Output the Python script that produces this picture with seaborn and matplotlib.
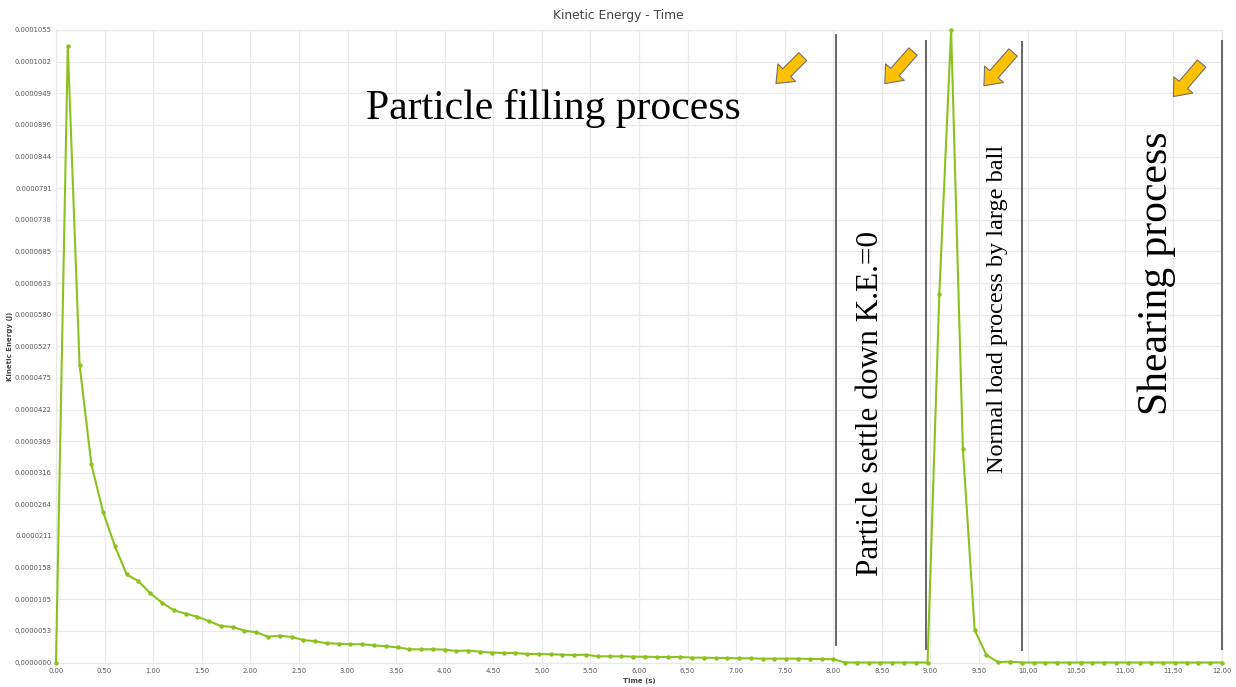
import numpy as np
import pandas as pd
import matplotlib
matplotlib.use("Agg")
import matplotlib.pyplot as plt
import seaborn as sns

# ---------------- data ----------------
time_start, time_end, n_samples = 0.0, 12.0, 100
# kinetic energy in micro-joules
ke_uJ = [0.0, 102.8, 49.7, 33.1, 25.1, 19.4, 14.7, 13.56, 11.55, 9.98,
         8.71, 8.15, 7.65, 6.88, 6.09, 5.93, 5.31, 5.04, 4.31, 4.47,
         4.26, 3.76, 3.54, 3.20, 3.14, 3.04, 3.04, 2.87, 2.70, 2.54,
         2.20, 2.20, 2.20, 2.15, 1.92, 2.00, 1.80, 1.65, 1.60, 1.60,
         1.42, 1.42, 1.37, 1.31, 1.25, 1.30, 1.03, 1.03, 1.03, 0.97,
         0.97, 0.92, 0.92, 0.92, 0.81, 0.81, 0.75, 0.75, 0.70, 0.70,
         0.64, 0.64, 0.64, 0.64, 0.58, 0.58, 0.55, 0.0, 0.0, 0.0,
         0.0, 0.0, 0.0, 0.0, 0.0, 61.5, 105.5, 35.6, 5.4, 1.25,
         0.05, 0.15, 0.0, 0.0, 0.0, 0.0, 0.0, 0.0, 0.0, 0.0,
         0.0, 0.0, 0.0, 0.0, 0.0, 0.0, 0.0, 0.0, 0.0, 0.0]

x_ticks = [i * 0.5 for i in range(25)]
x_tick_labels = ["%.2f" % v for v in x_ticks]
y_tick_labels = ["0.0000000", "0.0000053", "0.0000105", "0.0000158", "0.0000211",
                 "0.0000264", "0.0000316", "0.0000369", "0.0000422", "0.0000475",
                 "0.0000527", "0.0000580", "0.0000633", "0.0000685", "0.0000738",
                 "0.0000791", "0.0000844", "0.0000896", "0.0000949", "0.0001002",
                 "0.0001055"]
y_max = 0.0001055

# phase divider lines: x (s), bottom (J), top (J)
divider_x = [8.027, 8.953, 9.946, 12.0]
divider_bottom = [2.75e-6, 2.09e-6, 1.97e-6, 2.09e-6]
divider_top = [1.0475e-4, 1.039e-4, 1.036e-4, 1.0375e-4]

# yellow arrows: tail (x, y) -> head (x, y)
arrow_tails = [(7.685, 1.0107e-4), (8.82, 1.019e-4), (9.85, 1.0175e-4), (11.79, 0.999e-4)]
arrow_heads = [(7.41, 0.9657e-4), (8.53, 0.9657e-4), (9.55, 0.962e-4), (11.50, 0.944e-4)]

# text annotations
labels = ["Particle filling process", "Particle settle down K.E.=0",
          "Normal load process by large ball", "Shearing process"]

# ---------------- figure ----------------
df = pd.DataFrame({"Time (s)": np.linspace(time_start, time_end, n_samples),
                   "Kinetic Energy (J)": np.array(ke_uJ) * 1e-6})

sns.set_theme(style="whitegrid")
plt.rcParams["font.family"] = ["DejaVu Sans"]

W, H = 1236, 687
fig = plt.figure(figsize=(W / 100, H / 100), dpi=100)
ax = fig.add_axes([56 / W, 1 - 662.5 / H, (1222 - 56) / W, (662.5 - 30) / H])

green = "#8cc21e"
sns.lineplot(data=df, x="Time (s)", y="Kinetic Energy (J)", ax=ax, color=green,
             linewidth=1.5, marker="o", markersize=3.2, markeredgewidth=0,
             markerfacecolor=green, clip_on=False, zorder=3)

ax.set_xlim(0, 12)
ax.set_ylim(0, y_max)
ax.set_xticks(x_ticks)
ax.set_xticklabels(x_tick_labels)
ax.set_yticks(np.linspace(0, y_max, len(y_tick_labels)))
ax.set_yticklabels(y_tick_labels)
ax.tick_params(axis="both", length=0, labelsize=4.9, labelcolor="#555555")
ax.tick_params(axis="x", pad=4)
ax.tick_params(axis="y", pad=3)
ax.grid(True, color="#e9e9e9", linewidth=0.9)
for s in ax.spines.values():
    s.set_color("#e9e9e9")
    s.set_linewidth(0.9)
ax.set_facecolor("white")

ax.set_xlabel("Time (s)", fontsize=5, fontweight="bold", color="#444444", labelpad=3)
ax.set_ylabel("Kinetic Energy (J)", fontsize=5, fontweight="bold", color="#444444", labelpad=1)
fig.text(618 / W, 1 - 16 / H, "Kinetic Energy - Time", ha="center", va="center",
         fontsize=8.8, color="#444444")

# divider lines
ax.vlines(divider_x, divider_bottom, divider_top, colors="#5a5a5a", linewidth=1.3,
          zorder=4, clip_on=False)

# arrows
for (tx, ty), (hx, hy) in zip(arrow_tails, arrow_heads):
    ax.annotate("", xy=(hx, hy), xytext=(tx, ty), zorder=5,
                arrowprops=dict(arrowstyle="simple,head_length=1.1,head_width=1.8,tail_width=0.8",
                                mutation_scale=10, fc="#ffc000", ec="#707070", lw=0.8,
                                shrinkA=0, shrinkB=0))


def px_to_data(px, py):
    return ((px - 56) / (1222 - 56) * 12.0, (662.5 - py) / (662.5 - 30) * y_max)


serif = "Liberation Serif"
x0, y0 = px_to_data(553, 108)
ax.text(x0, y0, labels[0], fontsize=30, family=serif, color="black",
        ha="center", va="center", zorder=6)
x1, y1 = px_to_data(871, 404)
ax.text(x1, y1, labels[1], fontsize=22.5, family=serif, color="black",
        ha="center", va="center", rotation=90, zorder=6)
x2, y2 = px_to_data(997, 309)
ax.text(x2, y2, labels[2], fontsize=17.5, family=serif, color="black",
        ha="center", va="center", rotation=90, zorder=6)
x3, y3 = px_to_data(1157, 273)
ax.text(x3, y3, labels[3], fontsize=30, family=serif, color="black",
        ha="center", va="center", rotation=90, zorder=6)

fig.savefig("out.png", dpi=100, facecolor="white")
